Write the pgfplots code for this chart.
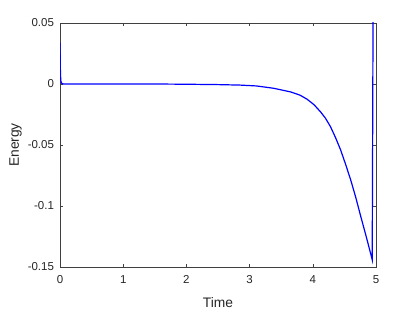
\documentclass[border=0pt]{standalone}
\usepackage{fontspec}
\setmainfont{Liberation Sans}
\usepackage{pgfplots}
\pgfplotsset{compat=1.18}
\definecolor{axgray}{gray}{0.25}
\begin{document}
\begin{tikzpicture}
\begin{axis}[
  scale only axis,
  width=316pt, height=244pt,
  xmin=0, xmax=5, ymin=-0.15, ymax=0.05,
  xtick={0,1,2,3,4,5},
  ytick={-0.15,-0.1,-0.05,0,0.05},
  yticklabels={-0.15,-0.1,-0.05,0,0.05},
  xticklabels={0,1,2,3,4,5},
  tick align=inside,
  major tick length=3pt,
  axis line style={axgray},
  every tick/.style={axgray},
  tick label style={font=\fontsize{11.5}{13}\selectfont, text=black!85},
  xticklabel style={yshift=-5pt},
  yticklabel style={xshift=-2.5pt},
  label style={font=\fontsize{13.8}{16}\selectfont, text=black!85},
  xlabel={Time}, ylabel={Energy},
  xlabel style={at={(axis description cs:0.5,-0.146)}, anchor=center},
  ylabel style={at={(axis description cs:-0.141,0.5)}, anchor=center},
  clip=true,
  scaled y ticks=false,
]
\addplot[blue, line width=1.2pt] coordinates {
(0,0.0335) (0.004,0.018) (0.008,0.007) (0.015,0.002) (0.03,0.0003) (0.06,0)
(0.5,0) (1,0) (1.5,0) (2,-0.0002) (2.5,-0.0005) (2.85,-0.0009) (3.11,-0.0016)
(3.38,-0.0035) (3.65,-0.0065) (3.8,-0.0092) (3.91,-0.0125) (4.02,-0.017) (4.12,-0.0227)
(4.2,-0.028) (4.28,-0.035) (4.36,-0.044) (4.44,-0.054) (4.52,-0.066) (4.60,-0.0787)
(4.68,-0.093) (4.76,-0.1088) (4.85,-0.126) (4.94,-0.144)
(4.955,0.08)
};
\end{axis}
\path (current axis.south west) ++(-60pt,-45pt) coordinate (bl);
\path (current axis.north east) ++(39pt,23pt) coordinate (tr);
\path (bl) rectangle (tr);
\end{tikzpicture}
\end{document}
